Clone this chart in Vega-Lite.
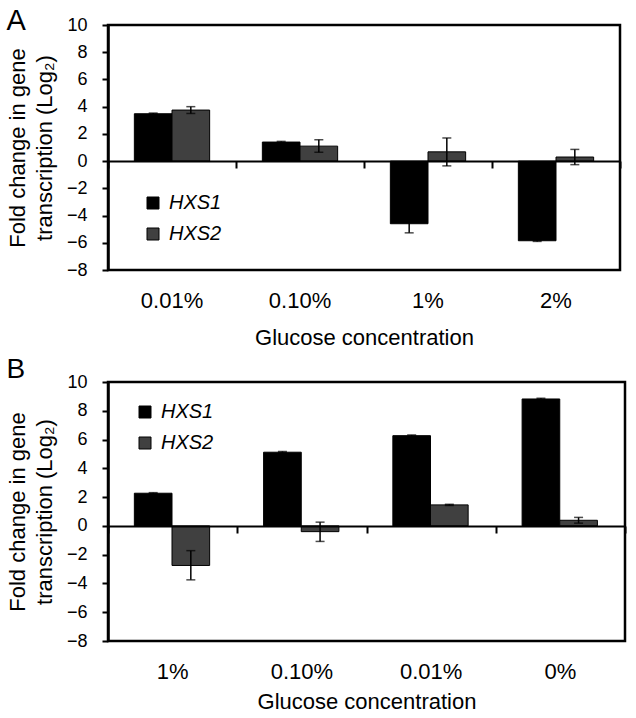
{
  "$schema": "https://vega.github.io/schema/vega-lite/v6.json",
  "padding": {"left": 5, "top": 5, "right": 5, "bottom": 5},
  "config": {
    "font": "Liberation Sans",
    "view": {"stroke": "#000000", "strokeWidth": 2.5},
    "axis": {"grid": false, "labelColor": "#000000", "titleColor": "#000000", "labelFont": "Liberation Sans", "titleFont": "Liberation Sans"},
    "title": {"font": "Liberation Sans", "fontWeight": "normal", "color": "#000000"}
  },
  "datasets": {
    "panelA": [
      {"conc": "0.01%", "gene": "HXS1", "value": 3.48, "lo": 3.43, "hi": 3.53},
      {"conc": "0.01%", "gene": "HXS2", "value": 3.75, "lo": 3.5, "hi": 4.0},
      {"conc": "0.10%", "gene": "HXS1", "value": 1.4, "lo": 1.35, "hi": 1.45},
      {"conc": "0.10%", "gene": "HXS2", "value": 1.1, "lo": 0.65, "hi": 1.57},
      {"conc": "1%", "gene": "HXS1", "value": -4.6, "lo": -5.27, "hi": -3.93},
      {"conc": "1%", "gene": "HXS2", "value": 0.68, "lo": -0.35, "hi": 1.7},
      {"conc": "2%", "gene": "HXS1", "value": -5.85, "lo": -5.9, "hi": -5.8},
      {"conc": "2%", "gene": "HXS2", "value": 0.3, "lo": -0.26, "hi": 0.86}
    ],
    "panelB": [
      {"conc": "1%", "gene": "HXS1", "value": 2.27, "lo": 2.23, "hi": 2.31},
      {"conc": "1%", "gene": "HXS2", "value": -2.75, "lo": -3.75, "hi": -1.72},
      {"conc": "0.10%", "gene": "HXS1", "value": 5.12, "lo": 5.07, "hi": 5.17},
      {"conc": "0.10%", "gene": "HXS2", "value": -0.4, "lo": -1.08, "hi": 0.26},
      {"conc": "0.01%", "gene": "HXS1", "value": 6.27, "lo": 6.22, "hi": 6.32},
      {"conc": "0.01%", "gene": "HXS2", "value": 1.46, "lo": 1.42, "hi": 1.5},
      {"conc": "0%", "gene": "HXS1", "value": 8.82, "lo": 8.77, "hi": 8.87},
      {"conc": "0%", "gene": "HXS2", "value": 0.39, "lo": 0.19, "hi": 0.59}
    ]
  },
  "resolve": {"scale": {"x": "independent", "color": "independent", "y": "independent"}, "legend": {"color": "independent"}},
  "spacing": 4,
  "vconcat": [
    {
      "width": 512,
      "height": 245,
      "title": {"text": "A", "fontSize": 29, "anchor": "start", "frame": "bounds", "offset": -20},
      "data": {"name": "panelA"},
      "resolve": {"axis": {"x": "independent"}},
      "layer": [
        {
          "mark": {"type": "bar", "stroke": "#000000", "strokeWidth": 1},
          "encoding": {
            "x": {"field": "conc", "type": "nominal", "sort": ["0.01%", "0.10%", "1%", "2%"],
                  "scale": {"paddingInner": 0, "paddingOuter": 0},
                  "axis": {"orient": "bottom", "title": "Glucose concentration", "domain": false, "ticks": false, "tickSize": 0, "labelAngle": 0, "labelFontSize": 22, "labelPadding": 20, "titleFontSize": 22, "titleFontWeight": "normal", "titlePadding": 16}},
            "xOffset": {"field": "gene", "type": "nominal", "scale": {"paddingInner": 0, "paddingOuter": 0.7}},
            "y": {"field": "value", "type": "quantitative",
                  "scale": {"domain": [-8, 10], "nice": false, "zero": false},
                  "axis": {"title": ["Fold change in gene", "transcription (Log₂)"], "values": [-8, -6, -4, -2, 0, 2, 4, 6, 8, 10], "domainColor": "#000000", "domainWidth": 2.5, "tickColor": "#000000", "tickWidth": 2, "tickSize": 6, "labelFontSize": 18, "labelPadding": 15, "titleFontSize": 22, "titleFontWeight": "normal", "titleLineHeight": 27, "titlePadding": 10}},
            "color": {"field": "gene", "type": "nominal",
                      "scale": {"domain": ["HXS1", "HXS2"], "range": ["#000000", "#404040"]},
                      "legend": {"title": null, "orient": "none", "legendX": 35, "legendY": 168, "symbolType": "square", "symbolSize": 144, "symbolStrokeColor": "#000000", "symbolStrokeWidth": 1, "labelFontSize": 20, "labelFontStyle": "italic", "labelColor": "#000000", "labelOffset": 6, "rowPadding": 11, "padding": 0}}
          }
        },
        {
          "mark": {"type": "rule", "color": "#000000", "strokeWidth": 1.5},
          "encoding": {
            "x": {"field": "conc", "type": "nominal", "sort": ["0.01%", "0.10%", "1%", "2%"],
                  "axis": {"orient": "bottom", "offset": -109, "labels": false, "title": null, "domain": true, "domainColor": "#000000", "domainWidth": 2, "ticks": true, "tickBand": "extent", "tickColor": "#000000", "tickWidth": 2, "tickSize": 7, "zindex": 1}},
            "xOffset": {"field": "gene", "type": "nominal"},
            "y": {"field": "lo", "type": "quantitative",
                  "axis": {"title": ["Fold change in gene", "transcription (Log₂)"], "values": [-8, -6, -4, -2, 0, 2, 4, 6, 8, 10], "domainColor": "#000000", "domainWidth": 2.5, "tickColor": "#000000", "tickWidth": 2, "tickSize": 6, "labelFontSize": 18, "labelPadding": 15, "titleFontSize": 22, "titleFontWeight": "normal", "titleLineHeight": 27, "titlePadding": 10}},
            "y2": {"field": "hi"}
          }
        },
        {
          "mark": {"type": "tick", "color": "#000000", "thickness": 1.5, "size": 9},
          "encoding": {
            "x": {"field": "conc", "type": "nominal", "sort": ["0.01%", "0.10%", "1%", "2%"], "axis": null},
            "xOffset": {"field": "gene", "type": "nominal"},
            "y": {"field": "lo", "type": "quantitative",
                  "axis": {"title": ["Fold change in gene", "transcription (Log₂)"], "values": [-8, -6, -4, -2, 0, 2, 4, 6, 8, 10], "domainColor": "#000000", "domainWidth": 2.5, "tickColor": "#000000", "tickWidth": 2, "tickSize": 6, "labelFontSize": 18, "labelPadding": 15, "titleFontSize": 22, "titleFontWeight": "normal", "titleLineHeight": 27, "titlePadding": 10}}
          }
        },
        {
          "mark": {"type": "tick", "color": "#000000", "thickness": 1.5, "size": 9},
          "encoding": {
            "x": {"field": "conc", "type": "nominal", "sort": ["0.01%", "0.10%", "1%", "2%"], "axis": null},
            "xOffset": {"field": "gene", "type": "nominal"},
            "y": {"field": "hi", "type": "quantitative",
                  "axis": {"title": ["Fold change in gene", "transcription (Log₂)"], "values": [-8, -6, -4, -2, 0, 2, 4, 6, 8, 10], "domainColor": "#000000", "domainWidth": 2.5, "tickColor": "#000000", "tickWidth": 2, "tickSize": 6, "labelFontSize": 18, "labelPadding": 15, "titleFontSize": 22, "titleFontWeight": "normal", "titleLineHeight": 27, "titlePadding": 10}}
          }
        }
      ]
    },
    {
      "width": 517,
      "height": 259,
      "title": {"text": "B", "fontSize": 28, "anchor": "start", "frame": "bounds", "offset": -11},
      "data": {"name": "panelB"},
      "resolve": {"axis": {"x": "independent"}},
      "layer": [
        {
          "mark": {"type": "bar", "stroke": "#000000", "strokeWidth": 1},
          "encoding": {
            "x": {"field": "conc", "type": "nominal", "sort": ["1%", "0.10%", "0.01%", "0%"],
                  "scale": {"paddingInner": 0, "paddingOuter": 0},
                  "axis": {"orient": "bottom", "title": "Glucose concentration", "domain": false, "ticks": false, "tickSize": 0, "labelAngle": 0, "labelFontSize": 22, "labelPadding": 20, "titleFontSize": 22, "titleFontWeight": "normal", "titlePadding": 9}},
            "xOffset": {"field": "gene", "type": "nominal", "scale": {"paddingInner": 0, "paddingOuter": 0.7}},
            "y": {"field": "value", "type": "quantitative",
                  "scale": {"domain": [-8, 10], "nice": false, "zero": false},
                  "axis": {"title": ["Fold change in gene", "transcription (Log₂)"], "values": [-8, -6, -4, -2, 0, 2, 4, 6, 8, 10], "domainColor": "#000000", "domainWidth": 2.5, "tickColor": "#000000", "tickWidth": 2, "tickSize": 6, "labelFontSize": 18, "labelPadding": 15, "titleFontSize": 22, "titleFontWeight": "normal", "titleLineHeight": 27, "titlePadding": 10}},
            "color": {"field": "gene", "type": "nominal",
                      "scale": {"domain": ["HXS1", "HXS2"], "range": ["#000000", "#404040"]},
                      "legend": {"title": null, "orient": "none", "legendX": 27, "legendY": 20, "symbolType": "square", "symbolSize": 144, "symbolStrokeColor": "#000000", "symbolStrokeWidth": 1, "labelFontSize": 20, "labelFontStyle": "italic", "labelColor": "#000000", "labelOffset": 6, "rowPadding": 11, "padding": 0}}
          }
        },
        {
          "mark": {"type": "rule", "color": "#000000", "strokeWidth": 1.5},
          "encoding": {
            "x": {"field": "conc", "type": "nominal", "sort": ["1%", "0.10%", "0.01%", "0%"],
                  "axis": {"orient": "bottom", "offset": -115, "labels": false, "title": null, "domain": true, "domainColor": "#000000", "domainWidth": 2, "ticks": true, "tickBand": "extent", "tickColor": "#000000", "tickWidth": 2, "tickSize": 7, "zindex": 1}},
            "xOffset": {"field": "gene", "type": "nominal"},
            "y": {"field": "lo", "type": "quantitative",
                  "axis": {"title": ["Fold change in gene", "transcription (Log₂)"], "values": [-8, -6, -4, -2, 0, 2, 4, 6, 8, 10], "domainColor": "#000000", "domainWidth": 2.5, "tickColor": "#000000", "tickWidth": 2, "tickSize": 6, "labelFontSize": 18, "labelPadding": 15, "titleFontSize": 22, "titleFontWeight": "normal", "titleLineHeight": 27, "titlePadding": 10}},
            "y2": {"field": "hi"}
          }
        },
        {
          "mark": {"type": "tick", "color": "#000000", "thickness": 1.5, "size": 9},
          "encoding": {
            "x": {"field": "conc", "type": "nominal", "sort": ["1%", "0.10%", "0.01%", "0%"], "axis": null},
            "xOffset": {"field": "gene", "type": "nominal"},
            "y": {"field": "lo", "type": "quantitative",
                  "axis": {"title": ["Fold change in gene", "transcription (Log₂)"], "values": [-8, -6, -4, -2, 0, 2, 4, 6, 8, 10], "domainColor": "#000000", "domainWidth": 2.5, "tickColor": "#000000", "tickWidth": 2, "tickSize": 6, "labelFontSize": 18, "labelPadding": 15, "titleFontSize": 22, "titleFontWeight": "normal", "titleLineHeight": 27, "titlePadding": 10}}
          }
        },
        {
          "mark": {"type": "tick", "color": "#000000", "thickness": 1.5, "size": 9},
          "encoding": {
            "x": {"field": "conc", "type": "nominal", "sort": ["1%", "0.10%", "0.01%", "0%"], "axis": null},
            "xOffset": {"field": "gene", "type": "nominal"},
            "y": {"field": "hi", "type": "quantitative",
                  "axis": {"title": ["Fold change in gene", "transcription (Log₂)"], "values": [-8, -6, -4, -2, 0, 2, 4, 6, 8, 10], "domainColor": "#000000", "domainWidth": 2.5, "tickColor": "#000000", "tickWidth": 2, "tickSize": 6, "labelFontSize": 18, "labelPadding": 15, "titleFontSize": 22, "titleFontWeight": "normal", "titleLineHeight": 27, "titlePadding": 10}}
          }
        }
      ]
    }
  ]
}
